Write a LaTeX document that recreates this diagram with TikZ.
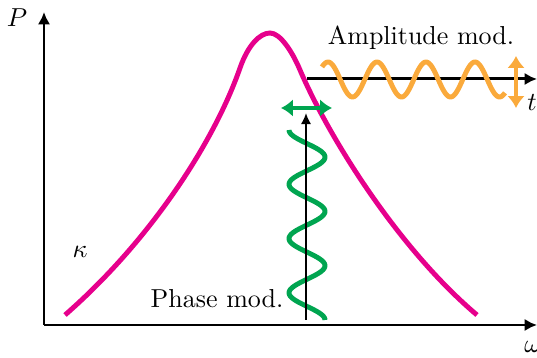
\documentclass[tikz,border=0pt]{standalone}
\usetikzlibrary{arrows.meta}
\definecolor{curvemag}{RGB}{230,0,140}
\definecolor{phasegreen}{RGB}{0,165,80}
\definecolor{ampor}{RGB}{250,170,60}
\begin{document}
\begin{tikzpicture}[x=0.385pt,y=-0.385pt,
  axis/.style={line width=1.15pt,-{Latex[length=4.8pt,width=4.8pt]}},
  thinaxis/.style={line width=0.8pt,-{Latex[length=4.3pt,width=4pt]}},
  lbl/.style={inner sep=0pt},
  dbl/.style={line width=1.5pt,{Latex[length=4.6pt,width=6.8pt]}-{Latex[length=4.6pt,width=6.8pt]}},
  wave/.style={line width=1.9pt}]
\useasboundingbox (0,0) rectangle (537,358);
% coordinates
\coordinate (O) at (44,325);
\coordinate (Ptip) at (44,12);
\coordinate (Wtip) at (537,325);
\coordinate (Tstart) at (307,79);
\coordinate (Ttip) at (537,79);
\coordinate (Vbot) at (306,320);
\coordinate (Vtip) at (306,113);
\coordinate (GL) at (281,108);
\coordinate (GR) at (332,108);
\coordinate (AT) at (516,56);
\coordinate (AB) at (516,108);
% axes
\draw[axis] (O) -- (Ptip);
\draw[axis] (O) -- (Wtip);
\node[lbl] (P) at (17,18) {$P$};
\node[lbl] (W) at (533,347) {$\omega$};
\node[lbl] (K) at (80,252) {$\kappa$};
\node[lbl] (T) at (532,103) {$t$};
% time axis and amplitude modulation
\draw[axis] (Tstart) -- (Ttip);
\draw[wave,ampor] plot[domain=322:505,samples=160,smooth] (\x,{79.5-17.5*cos(7.3469*(\x-328))});
\draw[dbl,ampor] (AT) -- (AB);
% resonance curve
\draw[line width=1.9pt,curvemag] (65,315) .. controls (152,239) and (215,140) .. (240,68)
  .. controls (248,45) and (260,33) .. (270,33)
  .. controls (280,33) and (292,51) .. (300,70)
  .. controls (330,140) and (400,250) .. (477,315);
% phase modulation
\draw[wave,phasegreen] plot[domain=130:320,samples=160,smooth] ({307-18*cos(6.6323*(\x-130))},\x);
\draw[thinaxis] (Vbot) -- (Vtip);
\draw[dbl,phasegreen] (GL) -- (GR);
% labels
\node[lbl,anchor=base] (AM) at (421,45) {Amplitude mod.};
\node[lbl,anchor=base] (PM) at (217,308) {Phase mod.};
\end{tikzpicture}
\end{document}
